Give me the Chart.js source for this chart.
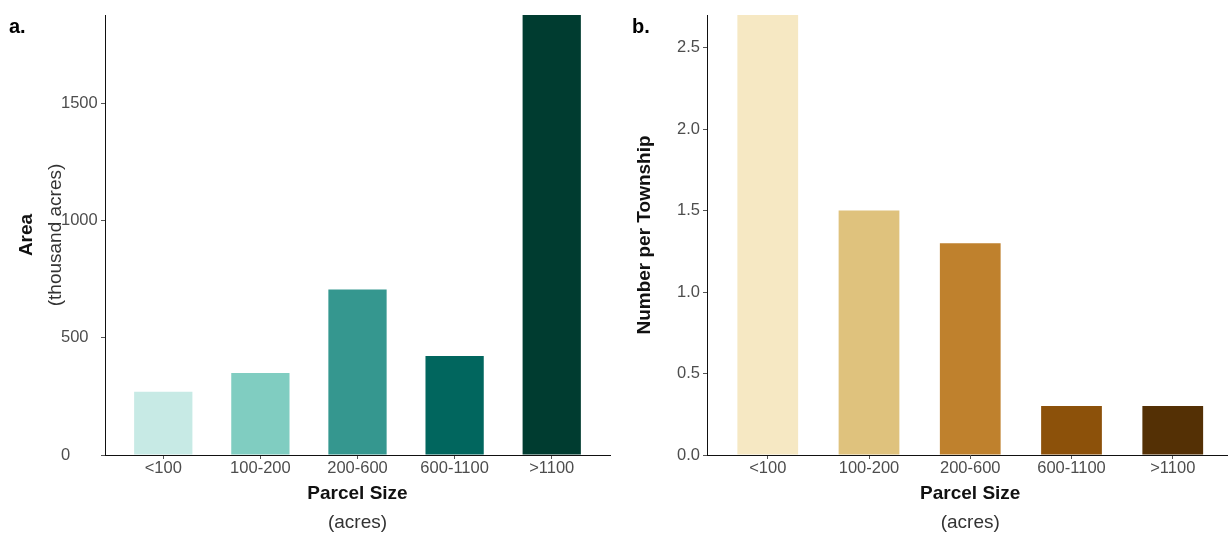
<!DOCTYPE html>
<html>
<head>
<meta charset="utf-8">
<script src="https://cdn.jsdelivr.net/npm/chart.js@4"></script>
<style>
  html, body { margin: 0; padding: 0; background: #fff; overflow: hidden; }
  #wrap { position: relative; width: 1228px; height: 533px; overflow: hidden; }
  .panel { position: absolute; top: 0; width: 620px; height: 533px; }
</style>
</head>
<body>
<div id="wrap">
  <div class="panel" style="left:0"><canvas id="chartA" width="620" height="533"></canvas></div>
  <div class="panel" style="left:620px"><canvas id="chartB" width="620" height="533"></canvas></div>
</div>
<script>
// datos
var parcelSizes = ["<100", "100-200", "200-600", "600-1100", ">1100"];
var areaThousandAcres = [270, 350, 706, 422, 1876];
var numberPerTownship = [2.7, 1.5, 1.3, 0.3, 0.3];
var areaTicks = [0, 500, 1000, 1500];
var townshipTicks = [0, 0.5, 1, 1.5, 2, 2.5];
var greenColors = ["#c7eae5", "#80cdc1", "#35978f", "#01665e", "#003c30"];
var brownColors = ["#f6e8c3", "#dfc27d", "#bf812d", "#8c510a", "#543005"];

var FONT = "'Liberation Sans', Arial, sans-serif";
Chart.defaults.font.family = FONT;
Chart.defaults.animation = false;

// titulos de ejes y letra del panel, dibujados a mano (dos fuentes por titulo)
var panelTitles = {
  id: "panelTitles",
  afterDraw: function (chart, args, opts) {
    var ctx = chart.ctx;
    var area = chart.chartArea;
    var cx = (area.left + area.right) / 2;
    var cy = (area.top + area.bottom) / 2;
    ctx.save();
    ctx.textAlign = "center";
    ctx.textBaseline = "middle";
    ctx.fillStyle = "#111";
    ctx.font = "bold 19px " + FONT;
    ctx.fillText("Parcel Size", cx, 494);
    ctx.fillStyle = "#333";
    ctx.font = "19px " + FONT;
    ctx.fillText("(acres)", cx, 523);

    opts.yLines.forEach(function (ln) {
      ctx.save();
      ctx.translate(ln.x, cy);
      ctx.rotate(-Math.PI / 2);
      ctx.fillStyle = ln.bold ? "#111" : "#333";
      ctx.font = (ln.bold ? "bold " : "") + "19px " + FONT;
      ctx.fillText(ln.text, 0, 0);
      ctx.restore();
    });

    ctx.textAlign = "left";
    ctx.textBaseline = "alphabetic";
    ctx.fillStyle = "#000";
    ctx.font = "bold 20px " + FONT;
    ctx.fillText(opts.letter, opts.letterX, 33);
    ctx.restore();
  }
};

function makeChart(id, values, colors, yMax, yTicks, yFmt, yWidth, pad, titles) {
  return new Chart(id, {
    type: "bar",
    data: {
      datasets: [{
        data: values.map(function (v, i) { return { x: i, y: v }; }),
        backgroundColor: colors,
        borderWidth: 0,
        barPercentage: 0.6,
        categoryPercentage: 1
      }]
    },
    options: {
      responsive: false,
      layout: { padding: pad },
      plugins: {
        legend: { display: false },
        tooltip: { enabled: false },
        panelTitles: titles
      },
      scales: {
        x: {
          type: "linear",
          min: -0.6,
          max: 4.6,
          offset: false,
          afterBuildTicks: function (s) {
            s.ticks = parcelSizes.map(function (_, i) { return { value: i }; });
          },
          afterFit: function (s) { s.height = 78; },
          ticks: {
            autoSkip: false,
            maxRotation: 0,
            padding: 0,
            color: "#4d4d4d",
            font: { size: 16.5 },
            callback: function (v) { return parcelSizes[v]; }
          },
          grid: { offset: false, drawOnChartArea: false, tickLength: 4, tickColor: "#555" },
          border: { color: "#111", width: 1 }
        },
        y: {
          min: 0,
          max: yMax,
          afterBuildTicks: function (s) {
            s.ticks = yTicks.map(function (v) { return { value: v }; });
          },
          afterFit: function (s) { s.width = yWidth; },
          ticks: {
            crossAlign: "far",
            color: "#4d4d4d",
            font: { size: 16.5 },
            callback: yFmt
          },
          grid: { drawOnChartArea: false, tickLength: 4, tickColor: "#555" },
          border: { color: "#111", width: 1 }
        }
      }
    },
    plugins: [panelTitles]
  });
}

makeChart("chartA", areaThousandAcres, greenColors, 1876, areaTicks,
  function (v) { return String(v); }, 44,
  { left: 61, right: 10, top: 15, bottom: 0 },
  { letter: "a.", letterX: 9,
    yLines: [{ text: "Area", x: 27, bold: true }, { text: "(thousand acres)", x: 56, bold: false }] });

makeChart("chartB", numberPerTownship, brownColors, 2.7, townshipTicks,
  function (v) { return v.toFixed(1); }, 30,
  { left: 57, right: 6.5, top: 15, bottom: 0 },
  { letter: "b.", letterX: 12,
    yLines: [{ text: "Number per Township", x: 25, bold: true }] });
</script>
</body>
</html>
